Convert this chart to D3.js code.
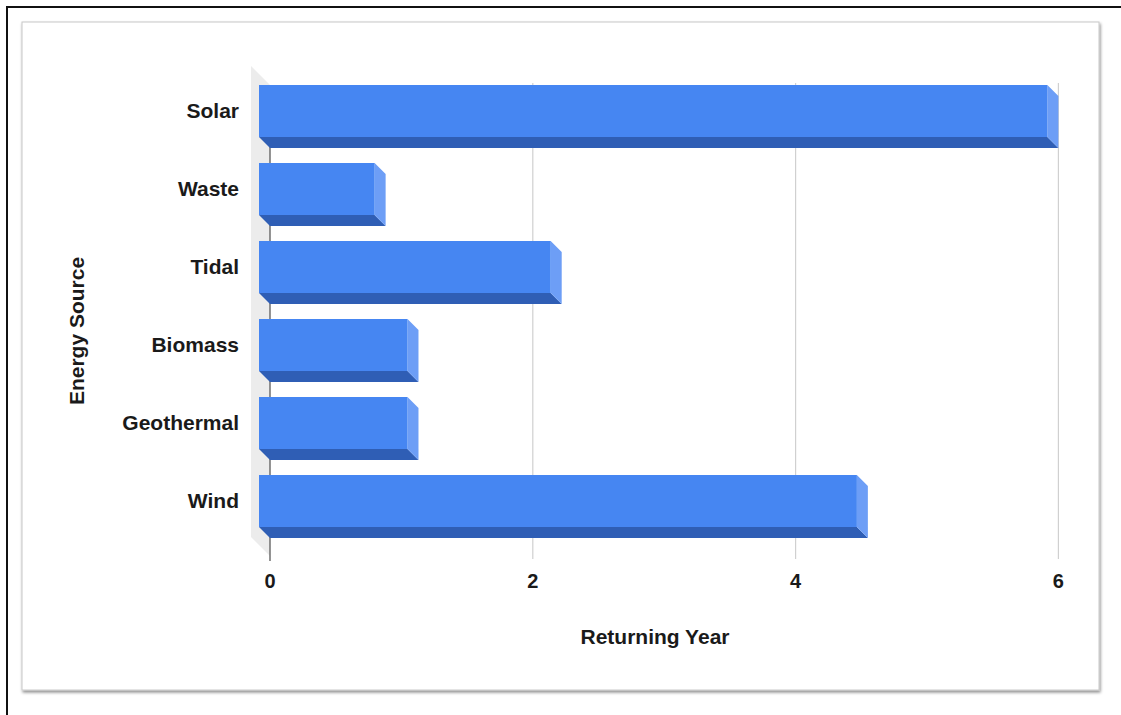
<!DOCTYPE html>
<html>
<head>
<meta charset="utf-8">
<script src="https://cdn.jsdelivr.net/npm/d3@7"></script>
<style>
  html, body { margin: 0; padding: 0; background: #fff; }
  svg { display: block; }
  text { font-family: "Liberation Sans", Arial, sans-serif; font-weight: bold; fill: #1a1a1a; }
</style>
</head>
<body>
<svg id="chart" width="1121" height="715"></svg>
<script>
// Payback period of each energy source, in years
const categories = ["Solar", "Waste", "Tidal", "Biomass", "Geothermal", "Wind"];
const returningYears = [6.0, 0.88, 2.22, 1.13, 1.13, 4.55];
const xTicks = [0, 2, 4, 6];
const xTitle = "Returning Year";
const yTitle = "Energy Source";

const svg = d3.select("#chart");
const W = 1121, H = 715;
const depth = 11;            // 3D extrusion offset (px)

// Drop shadow for the card that holds the chart
const defs = svg.append("defs");
const f = defs.append("filter").attr("id", "cardShadow")
  .attr("x", "-5%").attr("y", "-5%").attr("width", "110%").attr("height", "110%");
f.append("feDropShadow").attr("dx", 1).attr("dy", 2).attr("stdDeviation", 1.6)
  .attr("flood-color", "#000").attr("flood-opacity", 0.45);

// Outer frame lines (left and top)
svg.append("line").attr("x1", 7).attr("y1", 6).attr("x2", 7).attr("y2", H)
  .attr("stroke", "#111").attr("stroke-width", 2);
svg.append("line").attr("x1", 6).attr("y1", 7).attr("x2", W).attr("y2", 7)
  .attr("stroke", "#111").attr("stroke-width", 2);

// Card
svg.append("rect").attr("x", 22).attr("y", 22).attr("width", 1077).attr("height", 668)
  .attr("fill", "#fff").attr("stroke", "#c8c8c8").attr("stroke-width", 1)
  .attr("filter", "url(#cardShadow)");

// Scales: front plane of the bars and back plane (gridlines) offset by depth
const xFront = d3.scaleLinear().domain([0, 6]).range([259, 259 + 6 * 131.4]);
const xBack = v => xFront(v) + depth;
const y = d3.scaleBand().domain(categories).range([72, 540])
  .paddingInner(1 / 3).paddingOuter(1 / 6);

const g = svg.append("g");

// Left wall of the 3D plot area
const yTop = y.range()[0], yBot = y.range()[1];
g.append("path")
  .attr("d", d3.line()([
    [xFront(0) - 8, yTop - 6],
    [xBack(0), yTop + 13],
    [xBack(0), yBot + 16],
    [xFront(0) - 8, yBot - 3]
  ]) + "Z")
  .attr("fill", "#ececec");

// Vertical gridlines on the back plane
const gridTop = yTop + 11, gridBot = yBot + 19;
g.selectAll("line.grid").data(xTicks.filter(t => t !== 0)).join("line")
  .attr("class", "grid")
  .attr("x1", d => xBack(d)).attr("x2", d => xBack(d))
  .attr("y1", gridTop).attr("y2", gridBot)
  .attr("stroke", "#d0d0d0").attr("stroke-width", 1.2);

// Zero axis line
g.append("line")
  .attr("x1", xBack(0)).attr("x2", xBack(0))
  .attr("y1", yTop + 13).attr("y2", gridBot + 2)
  .attr("stroke", "#666").attr("stroke-width", 1.4);

// Bars: front face, bottom face (darker), right face (lighter)
const bars = g.selectAll("g.bar").data(categories.map((c, i) => ({ c, v: returningYears[i] })))
  .join("g").attr("class", "bar");

bars.append("path")
  .attr("d", d => {
    const x0 = xFront(0), x1 = xFront(d.v), yb = y(d.c) + y.bandwidth();
    return d3.line()([[x0, yb], [x1, yb], [x1 + depth, yb + depth], [x0 + depth, yb + depth]]) + "Z";
  })
  .attr("fill", "#2f5eb5");

bars.append("path")
  .attr("d", d => {
    const x1 = xFront(d.v), yt = y(d.c), yb = yt + y.bandwidth();
    return d3.line()([[x1, yt], [x1 + depth, yt + depth], [x1 + depth, yb + depth], [x1, yb]]) + "Z";
  })
  .attr("fill", "#6d9ef6");

bars.append("rect")
  .attr("x", xFront(0))
  .attr("y", d => y(d.c))
  .attr("width", d => xFront(d.v) - xFront(0))
  .attr("height", y.bandwidth())
  .attr("fill", "#4686f2");

// Category labels
g.selectAll("text.cat").data(categories).join("text")
  .attr("class", "cat")
  .attr("x", 239)
  .attr("y", d => y(d) + y.bandwidth() / 2)
  .attr("dy", "0.35em")
  .attr("text-anchor", "end")
  .style("font-size", "21px")
  .text(d => d);

// Tick labels
g.selectAll("text.tick").data(xTicks).join("text")
  .attr("class", "tick")
  .attr("x", d => xBack(d))
  .attr("y", 588)
  .attr("text-anchor", "middle")
  .style("font-size", "20px")
  .text(d => d);

// Axis titles
g.append("text")
  .attr("x", 655).attr("y", 644)
  .attr("text-anchor", "middle")
  .style("font-size", "21px")
  .text(xTitle);

g.append("text")
  .attr("transform", "translate(84,331) rotate(-90)")
  .attr("text-anchor", "middle")
  .style("font-size", "21px")
  .text(yTitle);
</script>
</body>
</html>
